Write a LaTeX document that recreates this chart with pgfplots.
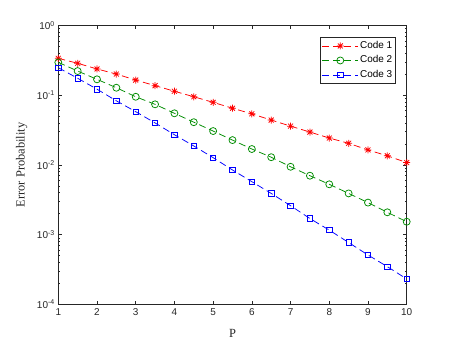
\documentclass[border=0pt]{standalone}
\usepackage{fontspec}
\setmainfont{Liberation Sans}
\newfontfamily\timesfont{Liberation Serif}
\usepackage{pgfplots}
\pgfplotsset{compat=1.18}
\definecolor{axgray}{rgb}{0.15,0.15,0.15}
\definecolor{mgreen}{rgb}{0,0.55,0}
\pgfdeclareplotmark{mstar}{%
 \pgfpathmoveto{\pgfqpoint{-\pgfplotmarksize}{0pt}}\pgfpathlineto{\pgfqpoint{\pgfplotmarksize}{0pt}}%
 \pgfpathmoveto{\pgfqpoint{0pt}{-\pgfplotmarksize}}\pgfpathlineto{\pgfqpoint{0pt}{\pgfplotmarksize}}%
 \pgfpathmoveto{\pgfqpoint{-.707\pgfplotmarksize}{-.707\pgfplotmarksize}}\pgfpathlineto{\pgfqpoint{.707\pgfplotmarksize}{.707\pgfplotmarksize}}%
 \pgfpathmoveto{\pgfqpoint{-.707\pgfplotmarksize}{.707\pgfplotmarksize}}\pgfpathlineto{\pgfqpoint{.707\pgfplotmarksize}{-.707\pgfplotmarksize}}%
 \pgfusepathqstroke}
\begin{document}
\begin{tikzpicture}
\path[use as bounding box] (0,0) rectangle (450bp,342bp);
\begin{axis}[
  at={(58.3bp,37.7bp)}, anchor=south west,
  scale only axis, width=348.4bp, height=278.8bp,
  ymode=log, xmin=1, xmax=10, ymin=1e-4, ymax=1,
  xtick={1,2,...,10},
  xticklabels={1,2,3,4,5,6,7,8,9,10},
  ytick={1e-4,1e-3,1e-2,1e-1,1},
  yticklabels={10\textsuperscript{-4},10\textsuperscript{-3},10\textsuperscript{-2},10\textsuperscript{-1},10\textsuperscript{0}},
  tick align=inside, tick pos=both,
  major tick length=3.5bp, minor tick length=2bp,
  axis line style={axgray, line width=0.5bp},
  every tick/.style={axgray, line width=0.5bp},
  tick label style={font=\fontsize{10}{12}\selectfont, text=axgray},
  xticklabel style={yshift=-1bp},
  every axis x label/.style={at={(axis description cs:0.5,-0.104)}, anchor=center, text=axgray},
  every axis y label/.style={at={(axis description cs:-0.105,0.5)}, rotate=90, anchor=center, text=axgray},
  xlabel={\fontsize{12.5}{14}\selectfont\timesfont P},
  ylabel={\fontsize{12.5}{14}\selectfont\timesfont Error Probability},
  legend style={at={(0.968,0.958)}, anchor=north east, draw=axgray, line width=0.5bp,
    inner xsep=1.5bp, inner ysep=3.5bp, row sep=4.5bp,
    font=\fontsize{10}{12}\selectfont,
    nodes={inner xsep=1.5bp, inner ysep=0pt, text height=7.5bp, text depth=2.5bp}},
  legend cell align=left,
  legend image code/.code={\draw[mark repeat=2,mark phase=2] plot coordinates {(0bp,0bp) (18bp,0bp) (36bp,0bp)};},
  every axis plot/.append style={line width=0.75bp, dash pattern=on 7bp off 4bp},
]
\addplot[red, mark=mstar, mark size=3.5bp, mark options={solid}] coordinates {
(1,0.338) (1.5,0.287) (2,0.238) (2.5,0.201) (3,0.165) (3.5,0.137) (4,0.114) (4.5,0.095)
(5,0.079) (5.5,0.065) (6,0.054) (6.5,0.044) (7,0.036) (7.5,0.0296) (8,0.0243) (8.5,0.0204)
(9,0.0164) (9.5,0.0135) (10,0.0108)};
\addlegendentry{Code 1}
\addplot[mgreen, mark=o, mark size=3.5bp, mark options={solid}] coordinates {
(1,0.296) (1.5,0.222) (2,0.169) (2.5,0.128) (3,0.095) (3.5,0.074) (4,0.055) (4.5,0.041)
(5,0.0306) (5.5,0.0227) (6,0.0169) (6.5,0.0129) (7,0.0094) (7.5,0.0070) (8,0.00527) (8.5,0.0039)
(9,0.00288) (9.5,0.00209) (10,0.00153)};
\addlegendentry{Code 2}
\addplot[blue, mark=square, mark size=2.7bp, mark options={solid}] coordinates {
(1,0.248) (1.5,0.175) (2,0.122) (2.5,0.083) (3,0.058) (3.5,0.040) (4,0.0271) (4.5,0.0187)
(5,0.0127) (5.5,0.00845) (6,0.00575) (6.5,0.0039) (7,0.0026) (7.5,0.0017) (8,0.00116) (8.5,0.00077)
(9,0.00051) (9.5,0.000347) (10,0.000231)};
\addlegendentry{Code 3}
\end{axis}
\end{tikzpicture}
\end{document}
